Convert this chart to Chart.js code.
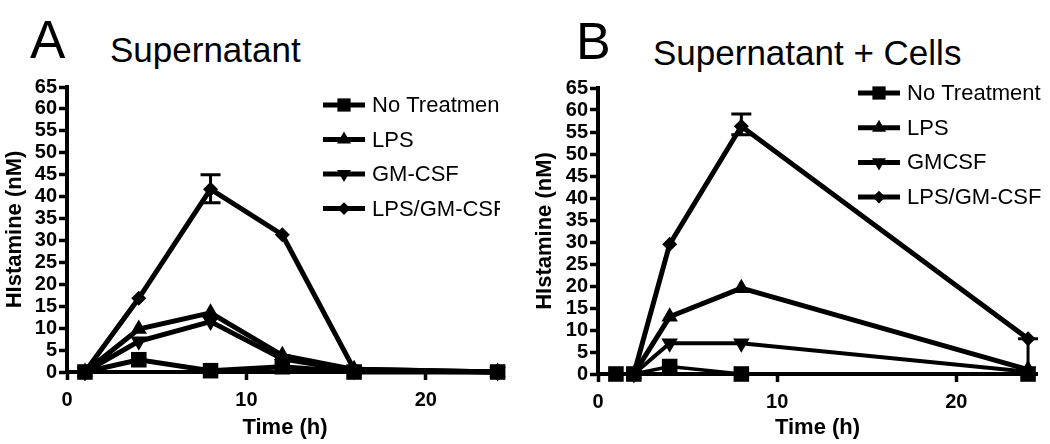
<!DOCTYPE html>
<html>
<head>
<meta charset="utf-8">
<script src="https://cdn.jsdelivr.net/npm/chart.js@4.4.1/dist/chart.umd.min.js"></script>
<style>
  body { margin: 0; background: #fff; width: 1050px; height: 444px; overflow: hidden; position: relative;
         font-family: "Liberation Sans", Arial, sans-serif; color: #000; }
  .panel { position: absolute; top: 0; height: 444px; }
  #wrapA { left: 0; width: 525px; }
  #wrapB { left: 530px; width: 520px; }
  .letter { position: absolute; font-size: 53px; line-height: 1; white-space: nowrap; }
  .title { position: absolute; font-size: 35px; line-height: 1; white-space: nowrap; }
</style>
</head>
<body>
<div class="letter" style="left:30px;top:13px">A</div>
<div class="title" style="left:110px;top:32px">Supernatant</div>
<div class="letter" style="left:576px;top:15px;font-size:52px">B</div>
<div class="title" style="left:653px;top:35px">Supernatant + Cells</div>
<div class="panel" id="wrapA"><canvas id="chartA" width="525" height="444"></canvas></div>
<div class="panel" id="wrapB"><canvas id="chartB" width="520" height="444"></canvas></div>
<script>
// Panel A: supernatant
const timesA = [1, 4, 8, 12, 16, 24];
const noTreatA = [0, 2.8, 0.3, 1.2, 0, 0];
const lpsA = [0, 9.8, 13.5, 3.8, 0.6, 0];
const gmcsfA = [0, 7.0, 11.5, 3.0, 0.3, 0];
const comboA = [0, 16.8, 41.7, 31.3, 0.6, 0];
const comboErrA = [null, null, [38.6, 45.0], null, null, null];
const labelsA = ['No Treatment', 'LPS', 'GM-CSF', 'LPS/GM-CSF'];

// Panel B: supernatant + cells
const timesB = [1, 2, 4, 8, 24];
const noTreatB = [0, 0, 1.7, 0, 0];
const lpsB = [null, 0, 13, 19.5, 1.0];
const gmcsfB = [null, 0, 7, 7, 0.5];
const comboB = [null, 0, 29.5, 56.3, 8.0];
const comboErrB = [null, null, null, [54.4, 59.1], [0, 8.0]];
const labelsB = ['No Treatment', 'LPS', 'GMCSF', 'LPS/GM-CSF'];

const yTicks = [0, 65, 5];
const xTicks = [0, 10, 20];

const FONT = '"Liberation Sans", Arial, sans-serif';
Chart.defaults.font.family = FONT;
Chart.defaults.color = '#000';

const markers = [
  { pointStyle: 'rect', radius: 11, rotation: 0 },
  { pointStyle: 'triangle', radius: 9.5, rotation: 0 },
  { pointStyle: 'triangle', radius: 9.5, rotation: 180 },
  { pointStyle: 'rectRot', radius: 7.5, rotation: 0 }
];

function toPoints(times, vals) {
  return times.map((t, i) => ({ x: t, y: vals[i] })).filter(p => p.y !== null);
}

function makeSets(times, series, labels, widths) {
  return series.map((vals, i) => ({
    label: labels[i],
    data: toPoints(times, vals),
    borderColor: '#000',
    backgroundColor: '#000',
    borderWidth: widths[i],
    pointStyle: markers[i].pointStyle,
    pointRadius: markers[i].radius,
    pointRotation: markers[i].rotation,
    pointBorderWidth: 0,
    pointBackgroundColor: '#000',
    tension: 0,
    clip: false
  }));
}

function drawMarker(ctx, style, x, y, r, rot) {
  ctx.save();
  ctx.translate(x, y);
  ctx.rotate(rot * Math.PI / 180);
  ctx.beginPath();
  if (style === 'rect') {
    const s = r * Math.SQRT1_2;
    ctx.rect(-s, -s, 2 * s, 2 * s);
  } else if (style === 'triangle') {
    ctx.moveTo(0, -r);
    ctx.lineTo(r * 0.866, r * 0.5);
    ctx.lineTo(-r * 0.866, r * 0.5);
    ctx.closePath();
  } else {
    ctx.moveTo(0, -r); ctx.lineTo(r, 0); ctx.lineTo(0, r); ctx.lineTo(-r, 0); ctx.closePath();
  }
  ctx.fillStyle = '#000';
  ctx.fill();
  ctx.restore();
}

const errorBars = {
  id: 'errorBars',
  beforeDatasetsDraw(chart, args, opts) {
    const ctx = chart.ctx;
    const xs = chart.scales.x, ys = chart.scales.y;
    ctx.save();
    ctx.strokeStyle = '#000';
    ctx.lineWidth = 3;
    opts.errs.forEach((e, i) => {
      if (!e) return;
      const px = xs.getPixelForValue(opts.times[i]);
      const lo = ys.getPixelForValue(e[0]), hi = ys.getPixelForValue(e[1]);
      ctx.beginPath();
      ctx.moveTo(px, lo); ctx.lineTo(px, hi);
      ctx.moveTo(px - 10, hi); ctx.lineTo(px + 10, hi);
      ctx.moveTo(px - 10, lo); ctx.lineTo(px + 10, lo);
      ctx.stroke();
    });
    ctx.restore();
  }
};

const boxLegend = {
  id: 'boxLegend',
  afterDraw(chart, args, opts) {
    const ctx = chart.ctx;
    ctx.save();
    ctx.beginPath();
    ctx.rect(0, 0, opts.clipRight, chart.height);
    ctx.clip();
    ctx.font = '22px ' + FONT;
    ctx.textBaseline = 'middle';
    ctx.fillStyle = '#000';
    chart.data.datasets.forEach((ds, i) => {
      const y = opts.y + i * opts.dy;
      ctx.strokeStyle = '#000';
      ctx.lineWidth = 5;
      ctx.beginPath();
      ctx.moveTo(opts.x, y); ctx.lineTo(opts.x + 42, y);
      ctx.stroke();
      drawMarker(ctx, markers[i].pointStyle, opts.x + 21, y, markers[i].radius * 0.85, markers[i].rotation);
      ctx.fillText(ds.label, opts.x + 49, y + 1);
    });
    ctx.restore();
  }
};

function makeChart(id, times, series, labels, errs, widths, geo) {
  return new Chart(document.getElementById(id), {
    type: 'line',
    data: { datasets: makeSets(times, series, labels, widths) },
    plugins: [errorBars, boxLegend],
    options: {
      responsive: false,
      animation: false,
      events: [],
      layout: { padding: { top: geo.top, right: geo.right, left: 0, bottom: 0 } },
      scales: {
        x: {
          type: 'linear',
          min: 0,
          max: geo.xmax,
          afterFit: s => { s.height = geo.xh; },
          ticks: { stepSize: xTicks[1] - xTicks[0], includeBounds: false, autoSkip: false, padding: 8,
                   font: { size: 20, weight: 'bold' }, color: '#000' },
          grid: { drawOnChartArea: false, drawTicks: true, tickLength: 8, tickWidth: 3.5, tickColor: '#000' },
          border: { display: true, color: '#000', width: 4 },
          title: { display: true, text: 'Time (h)', font: { size: 22, weight: 'bold' }, color: '#000',
                   padding: { top: 0, bottom: 3 } }
        },
        y: {
          min: yTicks[0],
          max: yTicks[1],
          afterFit: s => { s.width = geo.yw; },
          ticks: { stepSize: yTicks[2], autoSkip: false, padding: 2, font: { size: 20, weight: 'bold' }, color: '#000' },
          grid: { drawOnChartArea: false, drawTicks: true, tickLength: 8, tickWidth: 3.5, tickColor: '#000' },
          border: { display: true, color: '#000', width: 4 },
          title: { display: true, text: 'HIstamine (nM)', font: { size: 22, weight: 'bold' }, color: '#000',
                   padding: { top: 2, bottom: 0 } }
        }
      },
      plugins: {
        legend: { display: false },
        tooltip: { enabled: false },
        errorBars: { times: times, errs: errs },
        boxLegend: geo.legend
      }
    }
  });
}

makeChart('chartA', timesA, [noTreatA, lpsA, gmcsfA, comboA], labelsA, comboErrA, [5, 5, 5, 5],
  { top: 87, right: 22, xmax: 24.3, xh: 72, yw: 67,
    legend: { x: 323, y: 105, dy: 34.5, clipRight: 500 } });

makeChart('chartB', timesB, [noTreatB, lpsB, gmcsfB, comboB], labelsB, comboErrB, [3.5, 5, 4, 5],
  { top: 88, right: 13, xmax: 24.5, xh: 70, yw: 68,
    legend: { x: 328, y: 93, dy: 34.7, clipRight: 520 } });
</script>
</body>
</html>
